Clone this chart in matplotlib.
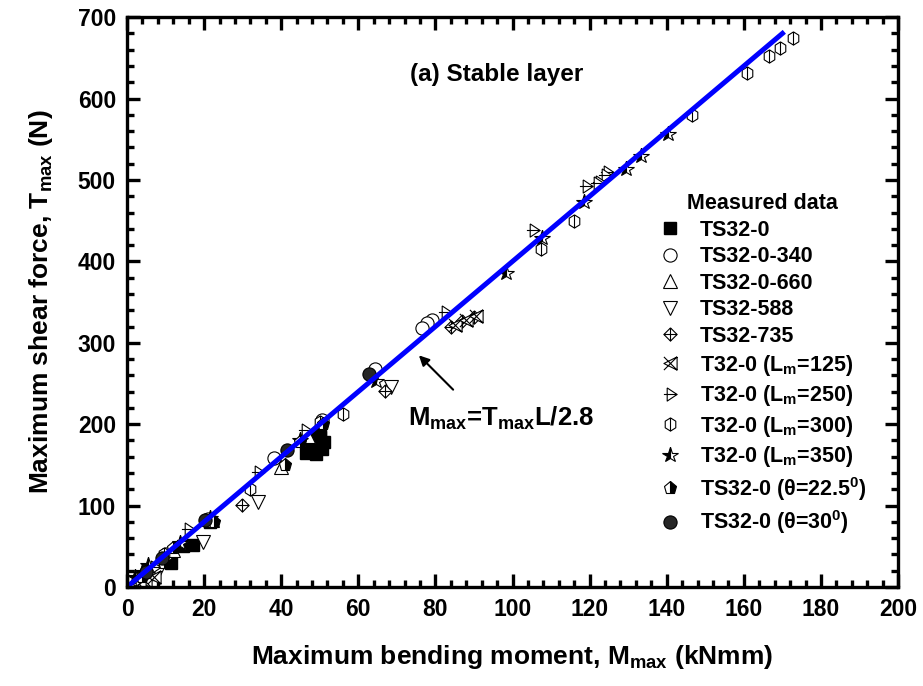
import numpy as np
import matplotlib
matplotlib.use("Agg")
import matplotlib.pyplot as plt
from matplotlib.path import Path

plt.rcParams['font.family'] = ['Liberation Sans', 'DejaVu Sans']
plt.rcParams['font.weight'] = 'bold'
plt.rcParams['mathtext.fontset'] = 'custom'
plt.rcParams['mathtext.rm'] = 'Liberation Sans:bold'
plt.rcParams['mathtext.bf'] = 'Liberation Sans:bold'
plt.rcParams['mathtext.default'] = 'bf'

# 数据 (M_max kNmm, T_max N)
ts32_0_M = [46.5, 47, 47, 47.5, 48, 48, 48.5, 49, 49, 49.5, 50, 50, 50.5, 51, 21.5, 17.2, 14.5, 11.5, 6]
ts32_0_T = [165, 180, 167, 172, 176, 185, 170, 163, 180, 174, 184, 190, 170, 178, 80, 52, 50, 30, 16]
ts340_M = [79, 77.8, 76.4, 64.3, 50.5, 38, 21, 10, 3]
ts340_T = [328, 324, 318, 268, 205, 158, 83, 40, 10]
ts660_M = [40, 47, 22, 12, 6]
ts660_T = [147, 185, 82, 45, 20]
ts588_M = [68.5, 34, 19.6, 8, 4]
ts588_T = [246, 105, 55, 18, 8]
ts735_M = [84, 87, 90, 66.8, 29.7, 3]
ts735_T = [320, 327, 332, 241, 101, 5]
lm125_M = [85, 88, 90.5, 4.7, 7, 3]
lm125_T = [322, 328, 333, 7, 12, 4]
lm250_M = [124.4, 124, 122.3, 121.8, 119, 105.4, 82.5, 46.2, 34, 15.9, 7, 3]
lm250_T = [510, 506, 498, 496, 493, 438, 338, 193, 141, 71, 25, 10]
lm300_M = [172.8, 169.4, 166.5, 160.8, 146.6, 116, 107.4, 55.9, 50, 31.9, 9.5, 4]
lm300_T = [675, 662, 652, 631, 580, 450, 415, 212, 203, 121, 40, 15]
lm350_M = [140.4, 133.3, 129.5, 118.6, 107.7, 98.2, 64.6, 45, 21.5, 13.7, 5.5, 4, 2]
lm350_T = [557, 530, 514, 473, 429, 386, 253, 180, 85, 54, 27, 18, 12]
th225_M = [63.5, 50.8, 45, 41, 22.5, 12, 9.5, 4]
th225_T = [258, 200, 178, 150, 80, 48, 30, 12]
th30_M = [62.8, 41.4, 20.3, 9, 5]
th30_T = [262, 168, 82, 36, 18]

fit_M = [0, 170]
ratio = 2.8
L = 700  # mm

# 自定义符号
M_, L_ = Path.MOVETO, Path.LINETO
diamond_plus = Path([(0, 1), (1, 0), (0, -1), (-1, 0), (0, 1), (0, 1), (0, -1), (-1, 0), (1, 0)],
                    [M_, L_, L_, L_, L_, M_, L_, M_, L_])
x_tri = Path([(1, 1), (1, -1), (-1, 0), (1, 1), (-1, -1), (1, 1), (-1, 1), (1, -1)],
             [M_, L_, L_, L_, M_, L_, M_, L_])
tri_line = Path([(-0.5, 1), (1, 0), (-0.5, -1), (-0.5, 1), (-1, 0), (1, 0)],
                [M_, L_, L_, L_, M_, L_])
hx = [(0, 1), (0.8, 0.5), (0.8, -0.5), (0, -1), (-0.8, -0.5), (-0.8, 0.5), (0, 1)]
hex_line = Path(hx + [(0, 1), (0, -1)], [M_] + [L_] * 6 + [M_, L_])

fig = plt.figure(figsize=(9.23, 6.86), dpi=100)
ax = fig.add_axes([0.1376, 0.1443, 0.8354, 0.8307])

ms = 9.5
ew = 0.8
open_kw = dict(linestyle='none', markerfacecolor='white', markeredgecolor='black',
               markersize=ms, markeredgewidth=ew)
ax.plot(ts32_0_M, ts32_0_T, 's', color='black', markersize=ms - 1, linestyle='none', label='TS32-0')
ax.plot(ts340_M, ts340_T, 'o', label='TS32-0-340', **open_kw)
ax.plot(ts660_M, ts660_T, '^', label='TS32-0-660', **open_kw)
ax.plot(ts588_M, ts588_T, 'v', label='TS32-588', **open_kw)
ax.plot(ts735_M, ts735_T, marker=diamond_plus, label='TS32-735', **open_kw)
ax.plot(lm125_M, lm125_T, marker=x_tri, label=r'T32-0 (L$_{m}$=125)', **open_kw)
ax.plot(lm250_M, lm250_T, marker=tri_line, label=r'T32-0 (L$_{m}$=250)', **open_kw)
ax.plot(lm300_M, lm300_T, marker=hex_line, label=r'T32-0 (L$_{m}$=300)', **open_kw)
ax.plot(lm350_M, lm350_T, '*', linestyle='none', markersize=ms + 2, markerfacecolor='black',
        markerfacecoloralt='white', fillstyle='left', markeredgecolor='black',
        markeredgewidth=ew, label=r'T32-0 (L$_{m}$=350)')
ax.plot(th225_M, th225_T, 'p', linestyle='none', markersize=ms, markerfacecolor='black',
        markerfacecoloralt='white', fillstyle='right', markeredgecolor='black',
        markeredgewidth=ew, label=r'TS32-0 (θ=22.5$^{0}$)')
ax.plot(th30_M, th30_T, 'o', linestyle='none', markersize=ms, markerfacecolor='0.15',
        markeredgecolor='black', markeredgewidth=ew, label=r'TS32-0 (θ=30$^{0}$)')

fit_T = [m * ratio * 1000 / L for m in fit_M]
ax.plot(fit_M, fit_T, color='#0000ff', linewidth=3.6)

ax.set_xlim(0, 200)
ax.set_ylim(0, 700)
ax.set_xticks(np.arange(0, 201, 20))
ax.set_yticks(np.arange(0, 701, 100))
ax.set_xticks(np.arange(0, 201, 4), minor=True)
ax.set_yticks(np.arange(0, 701, 20), minor=True)
ax.tick_params(which='both', direction='in', top=True, right=True, labelsize=16.5, pad=8)
ax.tick_params(which='major', length=9.5, width=2.4)
ax.tick_params(which='minor', length=5, width=2.4)
for sp in ax.spines.values():
    sp.set_linewidth(2.4)
for lab in ax.get_xticklabels() + ax.get_yticklabels():
    lab.set_fontweight('bold')

ax.set_xlabel(r'Maximum bending moment, M$_{max}$ (kNmm)', fontsize=19, fontweight='bold', labelpad=16)
ax.set_ylabel(r'Maximum shear force, T$_{max}$ (N)', fontsize=19, fontweight='bold', labelpad=16)

ax.text(96, 630, '(a) Stable layer', ha='center', va='center', fontsize=17.5, fontweight='bold')
ax.text(97, 207, r'M$_{max}$=T$_{max}$L/2.8', ha='center', va='center', fontsize=18.5, fontweight='bold')
ax.annotate('', xy=(75.2, 287), xytext=(85.1, 240),
            arrowprops=dict(arrowstyle='-|>', color='black', lw=1.5, mutation_scale=15))

leg = ax.legend(loc='upper left', bbox_to_anchor=(0.668, 0.718), frameon=False, fontsize=15.5,
                title='Measured data', handlelength=1.2, handletextpad=0.8,
                labelspacing=0.26, borderpad=0.2)
leg.get_title().set_fontweight('bold')
leg.get_title().set_fontsize(15.5)
for t in leg.get_texts():
    t.set_fontweight('bold')

fig.savefig('out.png', dpi=100)
